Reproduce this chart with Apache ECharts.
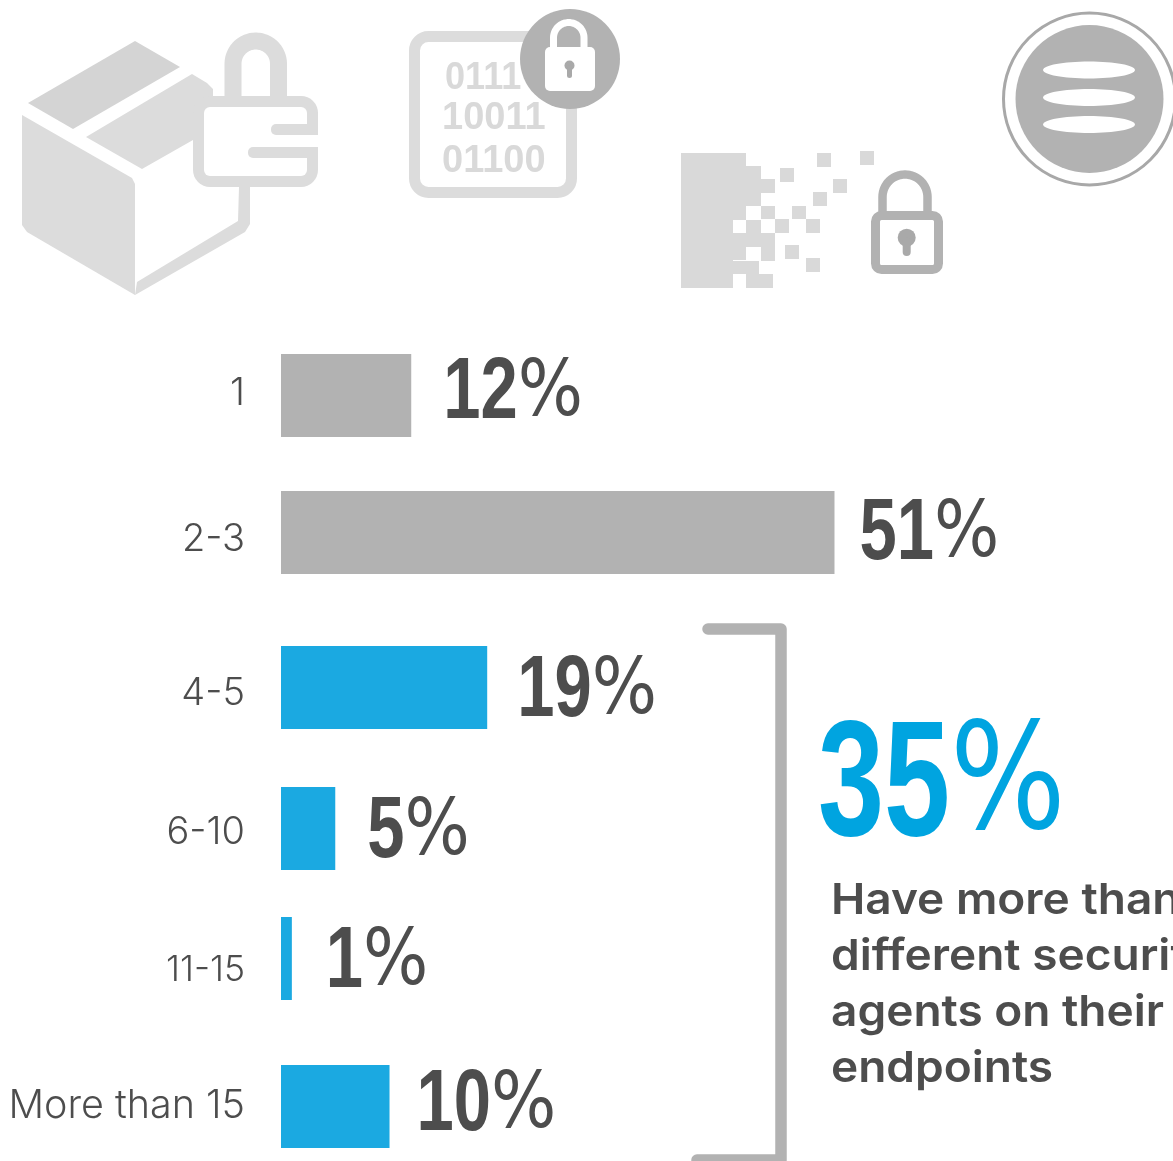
<!DOCTYPE html>
<html>
<head>
<meta charset="utf-8">
<style>html,body{margin:0;padding:0;background:#fff;overflow:hidden}#chart{width:1173px;height:1161px}</style>
<script src="https://cdn.jsdelivr.net/npm/echarts@6/dist/echarts.min.js"></script>
</head>
<body>
<div id="chart"></div>
<script>
// Number of security agents per endpoint, share of respondents
const categories = ['1', '2-3', '4-5', '6-10', '11-15', 'More than 15'];
const shares = [12, 51, 19, 5, 1, 10];
const highlighted = [false, false, true, true, true, true];
const calloutValue = 35;
const calloutLines = ['Have more than', 'different security', 'agents on their', 'endpoints'];
const binaryLines = ['0111', '10011', '01100'];

// Row layout: each bar sits in its own grid because the rows are unevenly spaced
const rowTops = [354, 491, 646, 787, 917, 1065];
const rowHeight = 83;
const tickShift = [-2, 7, 6, 4, 12, 0];
const tickSize = [38, 38, 38, 38, 35.5, 39.5];
const valueGap = [32, 25, 30, 32, 34, 27];
const valueShift = [-1, 3, 5, 5, 5, 0];

const GRAY = '#b2b2b2', LIGHT = '#dcdcdc', BLUE = '#1ba9e1', INK = '#4d4d4d', KEY = '#a9a9a9';
const DISPLAY_FONT = '"Liberation Sans", sans-serif';
const PERCENT_FONT = '"DejaVu Sans", sans-serif';
const LABEL_FONT = 'Inter, Lato, sans-serif';

// Condensed percentage: heavy squeezed digits followed by a lighter, wider percent sign
const percentParts = (x, y, value, size, fill, squeeze) => {
  const digits = String(value);
  return [
    {
      type: 'text', x, y, scaleX: squeeze, silent: true,
      style: { text: digits, fontFamily: DISPLAY_FONT, fontSize: size, fontWeight: 700, fill, verticalAlign: 'middle' }
    },
    {
      type: 'text', x: x + digits.length * 0.556 * size * squeeze, y, scaleX: squeeze * 1.14, silent: true,
      style: { text: '%', fontFamily: PERCENT_FONT, fontSize: size * 0.9, fontWeight: 400, fill, verticalAlign: 'middle' }
    }
  ];
};

const poly = (points, fill) => ({ type: 'polygon', shape: { points }, style: { fill }, silent: true });
const rrect = (x, y, width, height, r, fill, stroke, lineWidth) => ({
  type: 'rect', shape: { x, y, width, height, r },
  style: { fill: fill || 'none', stroke: stroke || 'none', lineWidth: lineWidth || 0 }, silent: true
});
const disc = (cx, cy, r, fill, stroke, lineWidth) => ({
  type: 'circle', shape: { cx, cy, r },
  style: { fill: fill || 'none', stroke: stroke || 'none', lineWidth: lineWidth || 0 }, silent: true
});
const oval = (cx, cy, rx, ry, fill) => ({ type: 'ellipse', shape: { cx, cy, rx, ry }, style: { fill }, silent: true });
const label = (x, y, text, font, size, weight, fill, scaleX) => ({
  type: 'text', x, y, scaleX: scaleX || 1, silent: true,
  style: { text, fontFamily: font, fontSize: size, fontWeight: weight, fill, verticalAlign: 'middle' }
});
function archPoints(xl, xr, top, bottom) {
  const r = (xr - xl) / 2, cx = (xl + xr) / 2, cy = top + r;
  const pts = [[xl, bottom]];
  for (let a = 180; a <= 360; a += 6) {
    pts.push([cx + r * Math.cos(a * Math.PI / 180), cy + r * Math.sin(a * Math.PI / 180)]);
  }
  pts.push([xr, bottom]);
  return pts;
}
// Open arch of a padlock
const shackle = (xl, xr, top, bottom, stroke, w) => ({
  type: 'polyline', silent: true,
  shape: { points: archPoints(xl, xr, top, bottom) },
  style: { fill: 'none', stroke, lineWidth: w, lineCap: 'butt', lineJoin: 'round' }
});
const keyhole = (cx, cy, r, stemW, stemEnd) => [
  disc(cx, cy, r, KEY),
  rrect(cx - stemW / 2, cy, stemW, stemEnd - cy, stemW / 2, KEY)
];

// Parcel with padlock
const parcelIcon = [
  poly([[28, 103], [135, 41], [180, 67], [73, 129]], '#d4d4d4'),
  poly([[86, 137], [192, 74], [207, 83], [213, 89], [213, 96], [204, 107], [193, 140], [142, 169]], LIGHT),
  poly([[22, 115], [132, 178], [135, 184], [135, 295], [27, 232], [22, 225]], LIGHT),
  poly([[135, 295], [245, 232], [250, 224], [250, 187], [239, 187], [238, 221], [137, 282]], LIGHT),
  shackle(233, 278.5, 41, 100, LIGHT, 17),
  rrect(193, 96, 125, 91, 17, LIGHT),
  rrect(204, 107, 103, 69, 6, '#fff'),
  rrect(271, 124, 47, 11, [5, 0, 0, 5], LIGHT),
  rrect(248, 147, 70, 11, [5, 0, 0, 5], LIGHT),
  rrect(300, 135, 20, 12, 0, '#fff')
];

// Binary file with padlock badge
const binaryIcon = [
  rrect(414.5, 36.5, 157, 156, 14, '#fff', LIGHT, 11),
  label(445, 79, binaryLines[0], DISPLAY_FONT, 38, 700, '#d9d9d9', 0.95),
  label(442, 119, binaryLines[1], DISPLAY_FONT, 38, 700, '#d9d9d9', 1.0),
  label(442, 162, binaryLines[2], DISPLAY_FONT, 38, 700, '#d9d9d9', 1.0),
  disc(570, 59, 50, GRAY),
  shackle(553.5, 584, 22.5, 50, '#fff', 7),
  rrect(545, 47, 50, 44, 5, '#fff'),
  ...keyhole(569.5, 65.5, 5, 5, 78)
];

// Fragmenting pixel block with padlock
const pixelBlocks = [
  [681, 153, 52, 135], [732, 153, 14, 53], [746, 166, 15, 40], [761, 179, 14, 14],
  [732, 206, 14, 14], [746, 220, 15, 13], [761, 206, 14, 13], [775, 219, 14, 14],
  [732, 233, 43, 14], [732, 247, 14, 13], [761, 247, 14, 14], [732, 261, 27, 13],
  [746, 274, 13, 14], [759, 274, 14, 14],
  [817, 153, 14, 14], [860, 151, 14, 14], [780, 168, 14, 14], [833, 179, 14, 14],
  [813, 192, 14, 14], [792, 206, 14, 13], [806, 219, 14, 14], [785, 245, 14, 14], [806, 258, 14, 14]
];
const pixelIcon = pixelBlocks.map(([x, y, w, h]) => rrect(x, y, w, h, 0, '#d9d9d9')).concat([
  shackle(882.5, 927.5, 174.5, 213, GRAY, 8.5),
  rrect(875.5, 215.5, 63, 54, 6, '#fff', GRAY, 9),
  ...keyhole(906.7, 237.7, 9, 8, 256)
]);

// Circular stack badge
const stackIcon = [
  disc(1089.5, 99, 86, '#fff', '#a8a8a8', 3),
  disc(1089.5, 99, 74, GRAY),
  oval(1089, 70, 46, 8.5, '#fff'),
  oval(1089, 97.5, 46, 8.5, '#fff'),
  oval(1089, 124.5, 46, 8.5, '#fff')
];

// Bracket around the highlighted rows and its callout
const bracket = {
  type: 'polyline', silent: true,
  shape: { points: [[708, 629], [781, 629], [781, 1160], [697, 1160]] },
  style: { fill: 'none', stroke: GRAY, lineWidth: 11.5, lineCap: 'round', lineJoin: 'round' }
};
const callout = [
  ...percentParts(818, 789, calloutValue, 165, '#00a4e0', 0.72),
  ...calloutLines.map((t, i) => label(831, 901 + i * 56, t, LABEL_FONT, 43, 600, INK, 1.07))
];

const barSeries = shares.map((v, i) => ({
  type: 'bar', xAxisIndex: i, yAxisIndex: i, data: [v], barWidth: rowHeight, silent: true,
  itemStyle: { color: highlighted[i] ? BLUE : GRAY }
}));
// Value labels are placed from each bar's end
const valueSeries = shares.map((v, i) => ({
  type: 'custom', xAxisIndex: i, yAxisIndex: i, silent: true,
  data: [[v, categories[i]]], encode: { x: 0, y: 1 },
  renderItem: (params, api) => {
    const end = api.coord([api.value(0), 0]);
    return {
      type: 'group',
      children: percentParts(end[0] + valueGap[i], end[1] + valueShift[i], api.value(0), 87, INK, 0.77)
    };
  }
}));

const option = {
  animation: false,
  backgroundColor: '#fff',
  grid: categories.map((_, i) => ({ left: 281, width: 700, top: rowTops[i], height: rowHeight })),
  xAxis: categories.map((_, i) => ({ type: 'value', gridIndex: i, min: 0, max: 64.5, show: false })),
  yAxis: categories.map((c, i) => ({
    type: 'category', gridIndex: i, data: [c],
    axisLine: { show: false }, axisTick: { show: false }, splitLine: { show: false },
    axisLabel: {
      margin: 36,
      formatter: '{t|{value}}',
      rich: {
        t: {
          fontFamily: LABEL_FONT, fontSize: tickSize[i], fontWeight: 300, color: INK,
          padding: tickShift[i] >= 0 ? [tickShift[i] * 2, 0, 0, 0] : [0, 0, -tickShift[i] * 2, 0]
        }
      }
    }
  })),
  series: [...barSeries, ...valueSeries],
  graphic: { elements: [...parcelIcon, ...binaryIcon, ...pixelIcon, ...stackIcon, bracket, ...callout] }
};

echarts.init(document.getElementById('chart'), null, { renderer: 'canvas' }).setOption(option);
</script>
</body>
</html>
